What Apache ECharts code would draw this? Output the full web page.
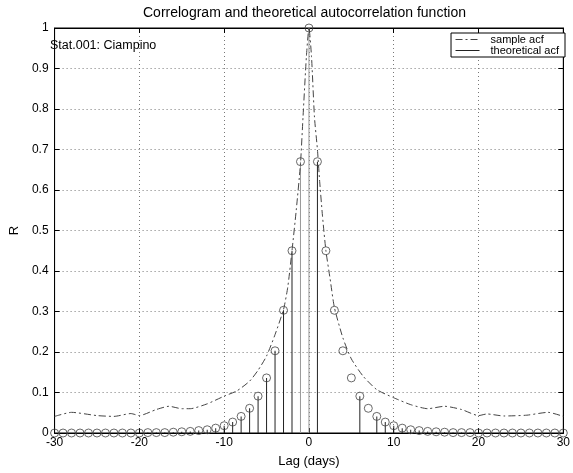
<!DOCTYPE html>
<html>
<head>
<meta charset="utf-8">
<script src="https://cdn.jsdelivr.net/npm/echarts@6/dist/echarts.min.js"></script>
<style>
html,body{margin:0;padding:0;background:#fff}
#chart{width:573px;height:473px}
</style>
</head>
<body>
<div id="chart"></div>
<script>
// lags of the correlogram (days)
var lags = [-30,-29,-28,-27,-26,-25,-24,-23,-22,-21,-20,-19,-18,-17,-16,-15,-14,-13,-12,-11,-10,-9,-8,-7,-6,-5,-4,-3,-2,-1,
	0,1,2,3,4,5,6,7,8,9,10,11,12,13,14,15,16,17,18,19,20,21,22,23,24,25,26,27,28,29,30];

// circle markers, one per lag
var acfValues = [0,0,0,0,0,0,0,0,0,0,0,0.001,0.001,0.001,0.002,0.003,0.004,0.006,0.008,0.012,0.018,0.027,0.041,0.061,0.091,0.136,0.203,0.303,0.45,0.67,
	1,0.67,0.45,0.303,0.203,0.136,0.091,0.061,0.041,0.027,0.018,0.012,0.008,0.006,0.004,0.003,0.002,0.001,0.001,0.001,0,0,0,0,0,0,0,0,0,0,0];

// lags where a stem is drawn
var stemLags = [-30,-29,-28,-27,-26,-25,-24,-23,-22,-21,-20,-19,-18,-17,-16,-15,-14,-13,-12,-11,-10,-9,-8,-7,-6,-5,-4,-3,-2,-1,
	0,1,6,8,9,10,11,12,13,14,15,16,17,18,19,20,21,22,23,24,25,26,27,28,29,30];
var greyStems = [0,-1];

// dash-dot curve
var curveLags = [-30,-28,-25,-23,-21,-20,-18,-16.5,-15,-14,-12,-10,-8.5,-7,-6,-5,-4,-3,-2.5,-2,-1.5,-1,-0.7,-0.3,0,
	0.3,0.65,1,1.25,1.6,2,2.5,3,4,5,6.4,8,10,12,14,16,18,20,21,23,25.7,28.2,30];
var curveValues = [0.041,0.051,0.043,0.041,0.048,0.043,0.058,0.066,0.06,0.06,0.072,0.091,0.104,0.128,0.155,0.19,0.243,0.305,0.36,0.45,0.55,0.665,0.78,0.93,1,
	0.93,0.78,0.70,0.625,0.535,0.45,0.38,0.31,0.235,0.183,0.14,0.107,0.087,0.07,0.06,0.066,0.058,0.043,0.047,0.042,0.044,0.051,0.041];

var font = 'Liberation Sans, Arial, sans-serif';

var circleData = lags.map(function(l, i){ return [l, acfValues[i]]; });
var stemData = stemLags.map(function(l){
	var v = acfValues[lags.indexOf(l)];
	return {value:[l, v], itemStyle:{color: greyStems.indexOf(l) >= 0 ? '#999' : '#222'}};
});
var curveData = curveLags.map(function(l, i){ return [l, curveValues[i]]; });

var chart = echarts.init(document.getElementById('chart'));

var tickStyle = {inside:true, length:5, lineStyle:{color:'#000'}};
var dotted = {lineStyle:{type:[1,3], color:'#777', width:1}};
var frameLine = {onZero:false, lineStyle:{color:'#000'}};

var option = {
	animation:false,
	backgroundColor:'#fff',
	title:[{
		text:'Correlogram and theoretical autocorrelation function',
		left:143, top:6, padding:0,
		textStyle:{fontFamily:font, fontSize:14, fontWeight:'normal', color:'#000'}
	},{
		text:'Stat.001: Ciampino',
		left:50, top:39, padding:0,
		textStyle:{fontFamily:font, fontSize:12.5, fontWeight:'normal', color:'#000'}
	}],
	legend:{
		data:['sample acf','theoretical acf'],
		orient:'vertical',
		right:8, top:33,
		itemWidth:24, itemHeight:8, itemGap:0,
		padding:[1,6,1,4],
		borderColor:'#000', borderWidth:1, borderRadius:0,
		backgroundColor:'#fff',
		itemStyle:{opacity:0},
		lineStyle:{width:1},
		textStyle:{fontFamily:font, fontSize:11, color:'#000', lineHeight:10, padding:[0,0,0,6]}
	},
	grid:{left:48, right:6, top:28, bottom:40, show:true, borderColor:'#000', borderWidth:1},
	xAxis:[{
		type:'value', min:-30, max:30, interval:10,
		name:'Lag (days)', nameLocation:'middle', nameGap:22,
		nameTextStyle:{fontFamily:font, fontSize:13, color:'#000'},
		axisLine:frameLine,
		axisTick:tickStyle,
		axisLabel:{fontFamily:font, fontSize:12, color:'#000', margin:4},
		splitLine:dotted
	},{
		type:'value', position:'top', min:-30, max:30, interval:10,
		axisLine:frameLine,
		axisTick:tickStyle, axisLabel:{show:false}, splitLine:{show:false}
	}],
	yAxis:[{
		type:'value', min:0, max:1, interval:0.1,
		name:'R', nameLocation:'middle', nameGap:30, nameRotate:90,
		nameTextStyle:{fontFamily:font, fontSize:13, color:'#000'},
		axisLine:frameLine,
		axisTick:tickStyle,
		axisLabel:{fontFamily:font, fontSize:12, color:'#000', margin:6},
		splitLine:dotted
	},{
		type:'value', position:'right', min:0, max:1, interval:0.1,
		axisLine:frameLine,
		axisTick:tickStyle, axisLabel:{show:false}, splitLine:{show:false}
	}],
	series:[{
		name:'stems',
		type:'bar',
		barWidth:1,
		data:stemData,
		z:2
	},{
		name:'sample acf',
		type:'line',
		data:curveData,
		smooth:0.2,
		symbol:'none',
		lineStyle:{color:'#444', width:1, type:[7,3,2,3]},
		itemStyle:{color:'#444'},
		z:3
	},{
		name:'theoretical acf',
		type:'line',
		data:[],
		symbol:'none',
		lineStyle:{color:'#222', width:1},
		itemStyle:{color:'#222'}
	},{
		name:'markers',
		type:'scatter',
		data:circleData,
		symbol:'circle',
		symbolSize:8,
		itemStyle:{color:'transparent', borderColor:'#444', borderWidth:1},
		z:4
	}]
};

chart.setOption(option);
</script>
</body>
</html>
